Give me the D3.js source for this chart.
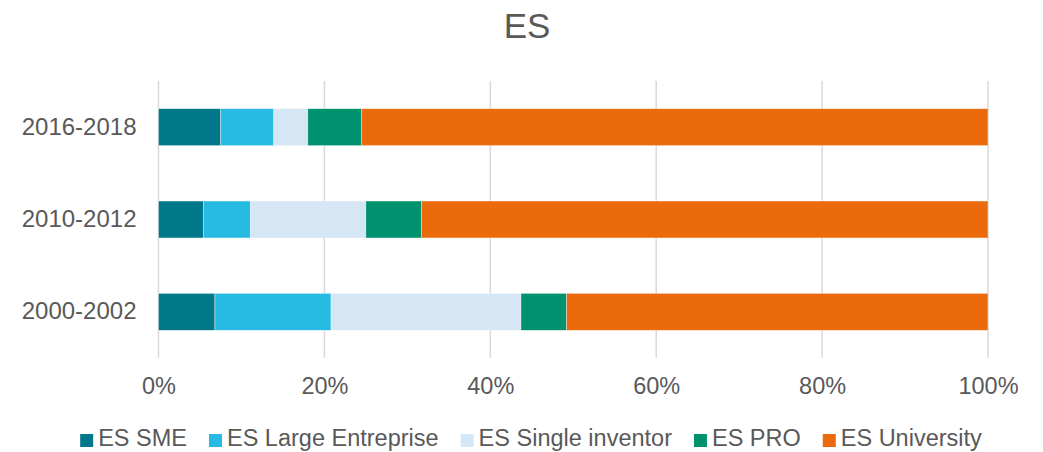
<!DOCTYPE html>
<html>
<head>
<meta charset="utf-8">
<script src="https://cdn.jsdelivr.net/npm/d3@7"></script>
<style>
  html, body { margin: 0; padding: 0; background: #fff; }
  svg { display: block; font-family: "Liberation Sans", Arial, sans-serif; }
</style>
</head>
<body>
<svg id="chart" width="1043" height="452"></svg>
<script>
// Periods, top to bottom
const periods = ["2016-2018", "2010-2012", "2000-2002"];
// Applicant types (stack order, left to right)
const seriesNames = ["ES SME", "ES Large Entreprise", "ES Single inventor", "ES PRO", "ES University"];
// Shares per period (%), one array per applicant type, in the order of `periods`
const smeShare        = [7.5, 5.4, 6.8];
const largeShare      = [6.4, 5.7, 14.0];
const singleShare     = [4.1, 13.9, 22.9];
const proShare        = [6.5, 6.7, 5.5];
const universityShare = [75.5, 68.3, 50.8];
const tickValues = [0, 20, 40, 60, 80, 100];
const colors = ["#00788A", "#27BBE3", "#D5E6F4", "#00916F", "#EB6A0C"];

const shares = [smeShare, largeShare, singleShare, proShare, universityShare];
const rows = periods.map((p, i) => {
  const r = { period: p };
  seriesNames.forEach((s, k) => { r[s] = shares[k][i]; });
  return r;
});

const svg = d3.select("#chart");
const margin = { left: 158.5, right: 55, top: 81, bottom: 94 };
const W = 1043, H = 452;
const textColor = "#595959";

const x = d3.scaleLinear().domain([0, 100]).range([margin.left, W - margin.right]);
const y = d3.scaleBand().domain(periods).range([margin.top, H - margin.bottom]).paddingInner(0.6).paddingOuter(0.3);

// Title
svg.append("text").attr("x", 527).attr("y", 38).attr("text-anchor", "middle")
  .attr("fill", textColor).style("font-size", "35px").text("ES");

// Vertical gridlines
svg.append("g").selectAll("line").data(tickValues).join("line")
  .attr("x1", d => x(d)).attr("x2", d => x(d))
  .attr("y1", margin.top).attr("y2", H - margin.bottom)
  .attr("stroke", "#d9d9d9").attr("stroke-width", 1.5);

// Stacked bars
const stack = d3.stack().keys(seriesNames)(rows);
svg.append("g").selectAll("g").data(stack).join("g")
  .attr("fill", (d, i) => colors[i])
  .selectAll("rect").data(d => d).join("rect")
  .attr("x", d => x(d[0]))
  .attr("width", d => x(d[1]) - x(d[0]))
  .attr("y", d => y(d.data.period))
  .attr("height", y.bandwidth())
  .attr("stroke", "#ffffff").attr("stroke-width", 0.6).attr("stroke-opacity", 0.6);

// X axis labels
const xAxis = d3.axisBottom(x).tickValues(tickValues).tickFormat(d => d + "%").tickSize(0).tickPadding(0);
const gx = svg.append("g").attr("transform", `translate(0,${H - margin.bottom})`).call(xAxis);
gx.select(".domain").remove();
gx.selectAll("text").attr("fill", textColor).style("font-size", "23.5px")
  .attr("dy", null).attr("y", 36);

// Y axis labels
const yAxis = d3.axisLeft(y).tickSize(0).tickPadding(0);
const gy = svg.append("g").attr("transform", `translate(${margin.left - 22},0)`).call(yAxis);
gy.select(".domain").remove();
gy.selectAll("text").attr("fill", textColor).style("font-size", "24px").attr("dy", "0.31em");

// Legend
const legend = svg.append("g");
const items = legend.selectAll("g").data(seriesNames).join("g");
items.append("rect").attr("width", 13).attr("height", 13).attr("y", -12)
  .attr("fill", (d, i) => colors[i]);
items.append("text").attr("x", 18).attr("y", 0).attr("fill", textColor)
  .style("font-size", "23.5px").text(d => d);
let cx = 0;
const gap = 22;
items.each(function() {
  const g = d3.select(this);
  g.attr("transform", `translate(${cx},0)`);
  cx += 18 + g.select("text").node().getComputedTextLength() + gap;
});
const totalW = cx - gap;
legend.attr("transform", `translate(${531 - totalW / 2},446)`);
</script>
</body>
</html>
